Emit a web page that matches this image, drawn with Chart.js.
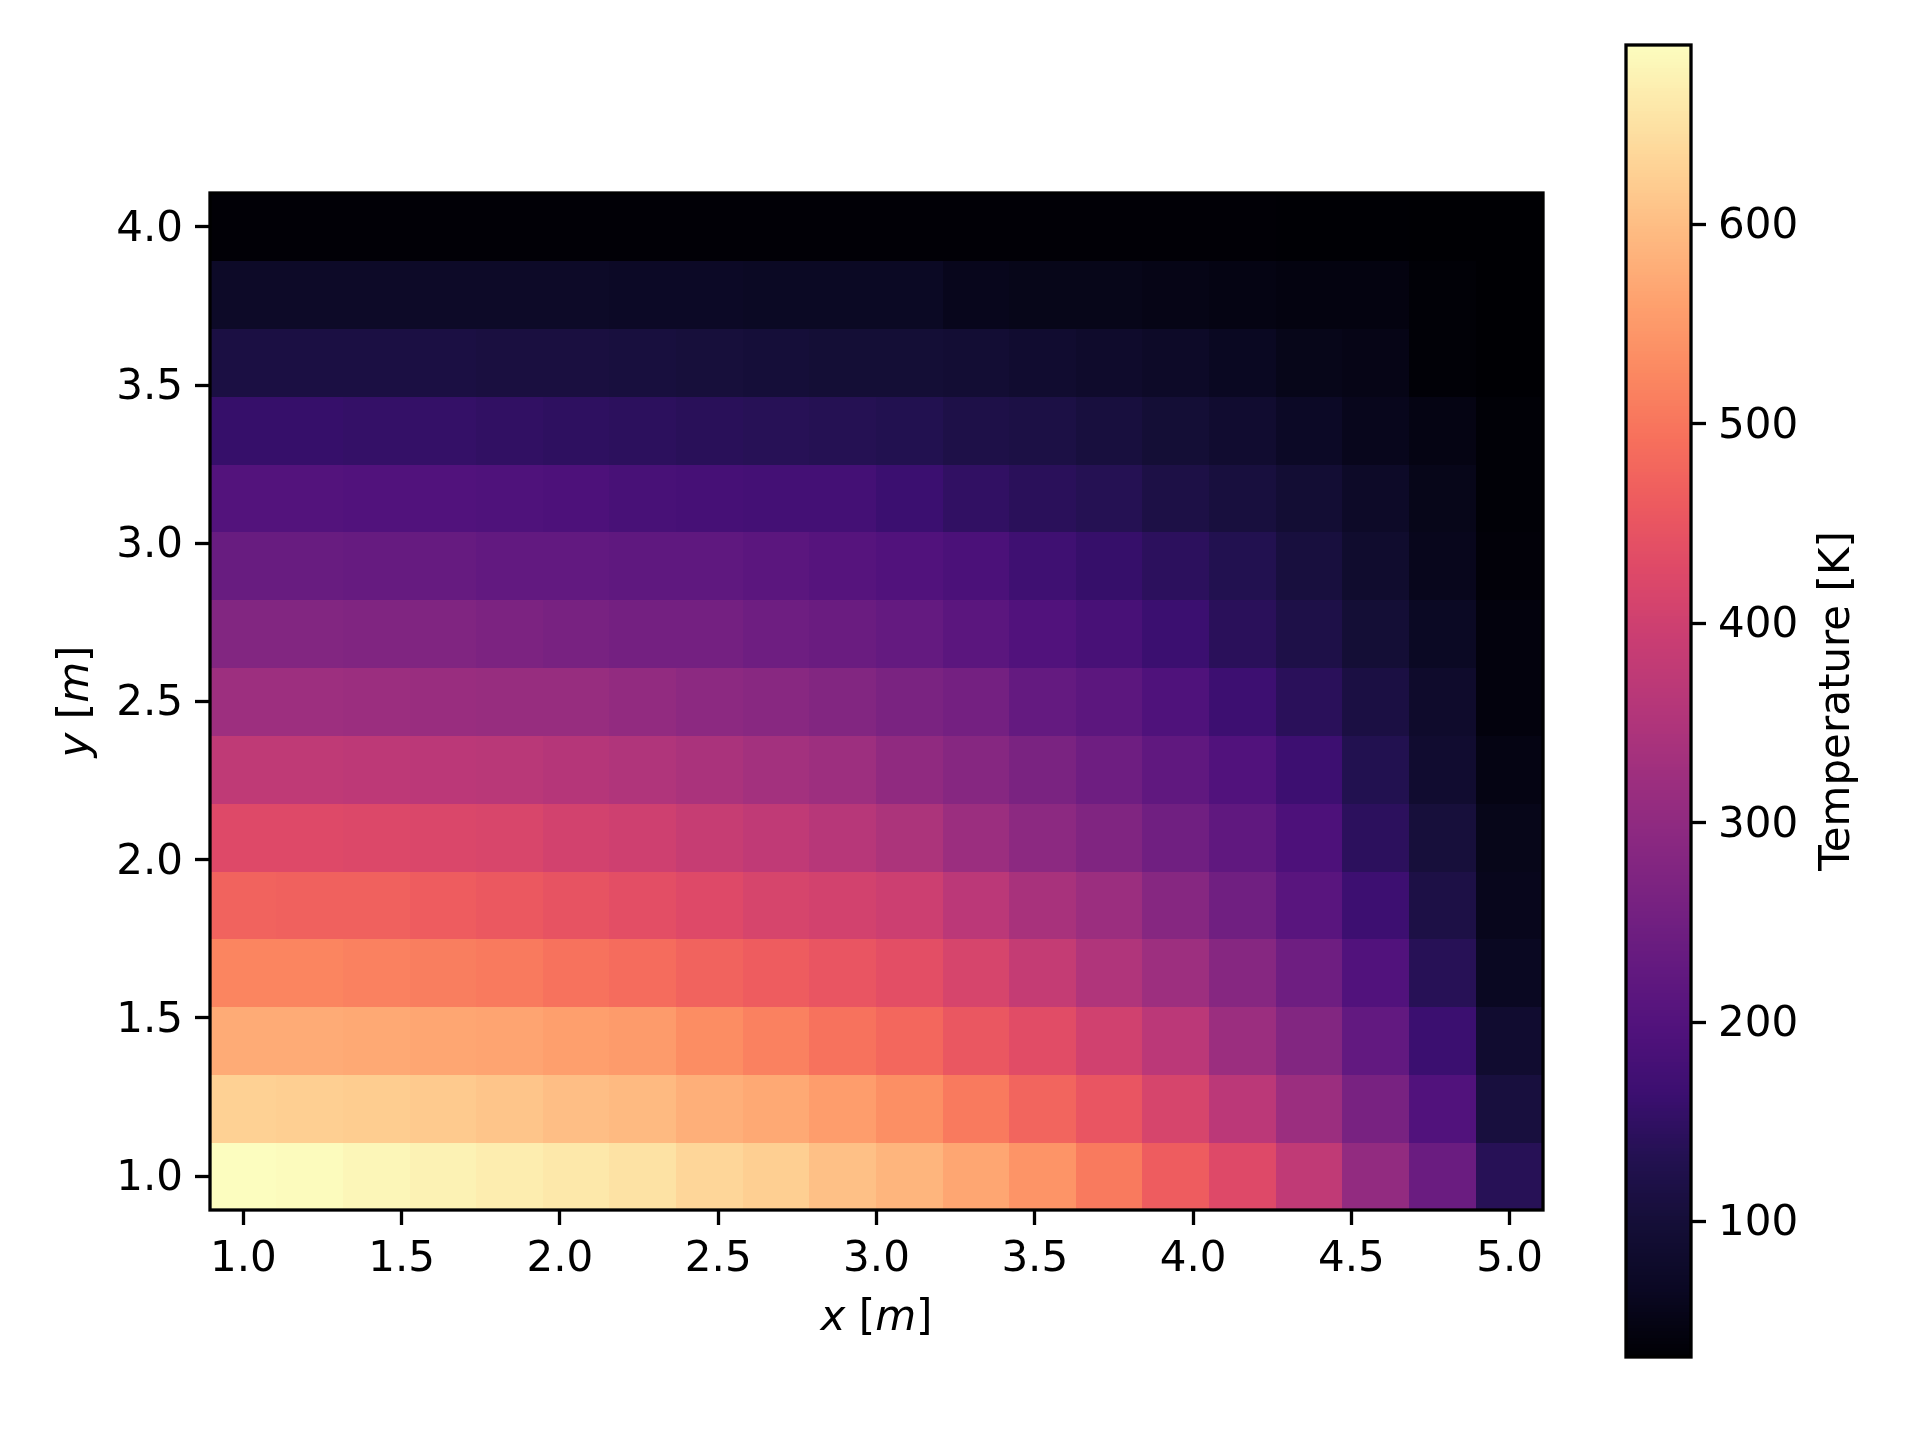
<!DOCTYPE html>
<html>
<head>
<meta charset="utf-8">
<script src="https://cdn.jsdelivr.net/npm/chart.js@4.4.1/dist/chart.umd.min.js"></script>
<style>
  html, body { margin: 0; padding: 0; background: #fff; }
  #wrap { position: relative; width: 1920px; height: 1440px; }
  #heat { position: absolute; left: 0; top: 0; width: 1600px; height: 1440px; }
  #cbar { position: absolute; left: 1600px; top: 0; width: 320px; height: 1440px; }
</style>
</head>
<body>
<div id="wrap">
  <canvas id="heat" width="1600" height="1440"></canvas>
  <canvas id="cbar" width="320" height="1440"></canvas>
</div>
<script>
// cell centres [m]
const xCenters = [1.000, 1.211, 1.421, 1.632, 1.842, 2.053, 2.263, 2.474, 2.684, 2.895,
                  3.105, 3.316, 3.526, 3.737, 3.947, 4.158, 4.368, 4.579, 4.789, 5.000];
const yCenters = [1.000, 1.214, 1.429, 1.643, 1.857, 2.071, 2.286, 2.500,
                  2.714, 2.929, 3.143, 3.357, 3.571, 3.786, 4.000];

// temperature [K], one row per y, bottom (y = 1.0) to top (y = 4.0)
const tY1_00 = [690, 687, 680, 674, 667, 660, 651, 634, 624, 604, 588, 568, 542, 506, 463, 427, 377, 305, 239, 137];
const tY1_21 = [627, 624, 621, 618, 611, 601, 595, 581, 572, 555, 535, 506, 476, 450, 414, 368, 318, 262, 197, 108];
const tY1_43 = [575, 575, 572, 568, 565, 558, 552, 532, 516, 496, 479, 453, 433, 404, 368, 318, 279, 226, 164, 88];
const tY1_64 = [522, 522, 516, 512, 506, 496, 486, 473, 463, 450, 437, 414, 384, 351, 322, 285, 246, 197, 137, 65];
const tY1_86 = [473, 470, 470, 463, 456, 447, 437, 427, 414, 407, 397, 368, 338, 318, 285, 249, 210, 167, 118, 58];
const tY2_07 = [427, 427, 424, 420, 417, 407, 400, 387, 377, 361, 345, 318, 295, 275, 249, 223, 190, 144, 104, 55];
const tY2_29 = [374, 374, 371, 368, 364, 358, 351, 341, 331, 322, 302, 285, 266, 246, 223, 197, 167, 131, 88, 48];
const tY2_50 = [322, 322, 318, 315, 312, 312, 305, 295, 289, 279, 266, 256, 229, 216, 193, 167, 141, 114, 81, 42];
const tY2_71 = [279, 279, 275, 275, 269, 262, 256, 256, 246, 239, 229, 213, 197, 183, 164, 141, 121, 98, 68, 42];
const tY2_93 = [236, 236, 233, 233, 226, 226, 220, 220, 213, 206, 197, 187, 170, 157, 144, 131, 108, 85, 58, 37];
const tY3_14 = [200, 200, 197, 197, 193, 190, 183, 180, 177, 177, 164, 150, 141, 134, 118, 108, 95, 75, 55, 35];
const tY3_36 = [157, 157, 154, 154, 150, 147, 144, 140, 137, 134, 131, 121, 117, 108, 97, 88, 71, 58, 48, 35];
const tY3_57 = [114, 114, 114, 114, 111, 111, 108, 104, 101, 98, 98, 95, 88, 81, 75, 65, 55, 52, 35, 32];
const tY3_79 = [75, 75, 75, 75, 75, 75, 71, 71, 68, 68, 68, 58, 55, 55, 52, 48, 45, 45, 35, 32];
const tY4_00 = [34, 34, 34, 34, 34, 34, 34, 34, 34, 34, 34, 34, 34, 34, 34, 34, 33, 33, 32, 32];

const tRows = [tY1_00, tY1_21, tY1_43, tY1_64, tY1_86, tY2_07, tY2_29, tY2_50,
               tY2_71, tY2_93, tY3_14, tY3_36, tY3_57, tY3_79, tY4_00];

const xTicks = [1.0, 1.5, 2.0, 2.5, 3.0, 3.5, 4.0, 4.5, 5.0];
const yTicks = [1.0, 1.5, 2.0, 2.5, 3.0, 3.5, 4.0];
const cbarTicks = [100, 200, 300, 400, 500, 600];
const vMin = 32, vMax = 690;

// magma colormap stops
const magmaStops = ['#000004', '#0a0822', '#140e36', '#221150', '#3b0f70', '#51127c', '#641a80',
  '#782281', '#8c2981', '#a1307e', '#b73779', '#ca3e72', '#de4968', '#ed5a5f', '#f7705c',
  '#fb8861', '#fe9f6d', '#feb77f', '#fecf92', '#fde6a8', '#fcfdbf'];
const magmaRgb = magmaStops.map(h => [1, 3, 5].map(i => parseInt(h.substr(i, 2), 16)));

function magma(t) {
  t = Math.max(0, Math.min(1, t));
  const f = t * (magmaRgb.length - 1);
  const i = Math.min(Math.floor(f), magmaRgb.length - 2);
  const k = f - i;
  const a = magmaRgb[i], b = magmaRgb[i + 1];
  const c = a.map((v, j) => Math.round(v + (b[j] - v) * k));
  return `rgb(${c[0]},${c[1]},${c[2]})`;
}

const dx = xCenters[1] - xCenters[0];
const dy = yCenters[1] - yCenters[0];

const cells = [];
tRows.forEach((row, j) => {
  row.forEach((v, i) => cells.push({ x: xCenters[i], y: yCenters[j], v: v }));
});

const tickFont = { family: 'DejaVu Sans', size: 42 };
const lw = 3.3;

// draws one rectangle per data point, sized through the scales
const heatCells = {
  id: 'heatCells',
  beforeDatasetsDraw(chart) {
    const { ctx, chartArea: a, scales: { x, y } } = chart;
    ctx.save();
    ctx.beginPath();
    ctx.rect(a.left, a.top, a.right - a.left, a.bottom - a.top);
    ctx.clip();
    chart.data.datasets[0].data.forEach(p => {
      const l = Math.floor(x.getPixelForValue(p.x - dx / 2));
      const r = Math.ceil(x.getPixelForValue(p.x + dx / 2));
      const t = Math.floor(y.getPixelForValue(p.y + dy / 2));
      const b = Math.ceil(y.getPixelForValue(p.y - dy / 2));
      ctx.fillStyle = magma((p.v - vMin) / (vMax - vMin));
      ctx.fillRect(l, t, r - l, b - t);
    });
    ctx.restore();
  }
};

// mixed italic / upright label, like matplotlib mathtext
function drawMixed(ctx, parts, cx, cy, rot) {
  ctx.save();
  ctx.translate(cx, cy);
  ctx.rotate(rot);
  ctx.textBaseline = 'middle';
  ctx.textAlign = 'left';
  const fonts = parts.map(p => (p[1] ? 'italic ' : '') + '42px "DejaVu Sans"');
  let total = 0;
  const widths = parts.map((p, i) => { ctx.font = fonts[i]; const w = ctx.measureText(p[0]).width; total += w; return w; });
  let xx = -total / 2;
  ctx.fillStyle = '#000';
  parts.forEach((p, i) => { ctx.font = fonts[i]; ctx.fillText(p[0], xx, 0); xx += widths[i]; });
  ctx.restore();
}

const frameAndTitles = {
  id: 'frameAndTitles',
  afterDraw(chart) {
    const { ctx, chartArea: a } = chart;
    ctx.save();
    ctx.strokeStyle = '#000';
    ctx.lineWidth = lw;
    ctx.strokeRect(a.left, a.top, a.right - a.left, a.bottom - a.top);
    ctx.restore();
    const midX = (a.left + a.right) / 2, midY = (a.top + a.bottom) / 2;
    drawMixed(ctx, [['x', true], [' [', false], ['m', true], [']', false]], midX, 1319, 0);
    drawMixed(ctx, [['y', true], [' [', false], ['m', true], [']', false]], 77, midY, -Math.PI / 2);
  }
};

function axisOpts(min, max, ticks, fitKey, fitVal, pos) {
  const horiz = pos === 'bottom';
  return {
    type: 'linear',
    position: pos,
    min: min,
    max: max,
    afterBuildTicks: ax => { ax.ticks = ticks.map(v => ({ value: v })); },
    afterFit: s => { s[fitKey] = fitVal; },
    grid: { drawOnChartArea: false, drawTicks: true, tickLength: 15, tickWidth: lw, tickColor: '#000' },
    border: { display: false },
    ticks: {
      color: '#000', font: tickFont, padding: horiz ? 10 : 12, labelOffset: horiz ? 0 : 3,
      maxRotation: 0, autoSkip: false,
      callback: v => Number(v).toFixed(1)
    }
  };
}

new Chart(document.getElementById('heat'), {
  type: 'scatter',
  data: { datasets: [{ data: cells, pointRadius: 0, pointHoverRadius: 0 }] },
  options: {
    responsive: false,
    animation: false,
    layout: { padding: { left: 60, top: 193, right: 57, bottom: 90 } },
    plugins: { legend: { display: false }, tooltip: { enabled: false } },
    scales: {
      x: axisOpts(xCenters[0] - dx / 2, xCenters[xCenters.length - 1] + dx / 2, xTicks, 'height', 140, 'bottom'),
      y: axisOpts(yCenters[0] - dy / 2, yCenters[yCenters.length - 1] + dy / 2, yTicks, 'width', 150, 'left')
    }
  },
  plugins: [heatCells, frameAndTitles]
});

// colour bar
const cbarFill = {
  id: 'cbarFill',
  beforeDatasetsDraw(chart) {
    const { ctx, chartArea: a, scales: { y } } = chart;
    const n = 400;
    for (let i = 0; i < n; i++) {
      const v0 = vMin + (vMax - vMin) * i / n;
      const v1 = vMin + (vMax - vMin) * (i + 1) / n;
      const top = Math.floor(y.getPixelForValue(v1));
      const bot = Math.ceil(y.getPixelForValue(v0));
      ctx.fillStyle = magma((i + 0.5) / n);
      ctx.fillRect(a.left, top, a.right - a.left, bot - top);
    }
  },
  afterDraw(chart) {
    const { ctx, chartArea: a } = chart;
    ctx.save();
    ctx.strokeStyle = '#000';
    ctx.lineWidth = lw;
    ctx.strokeRect(a.left, a.top, a.right - a.left, a.bottom - a.top);
    ctx.restore();
    drawMixed(ctx, [['Temperature [K]', false]], 238, (a.top + a.bottom) / 2, -Math.PI / 2);
  }
};

const cbarY = axisOpts(vMin, vMax, cbarTicks, 'width', 229, 'right');
cbarY.ticks.callback = v => String(v);

new Chart(document.getElementById('cbar'), {
  type: 'scatter',
  data: { datasets: [{ data: [], pointRadius: 0 }] },
  options: {
    responsive: false,
    animation: false,
    layout: { padding: { left: 26, top: 45, right: 0, bottom: 83 } },
    plugins: { legend: { display: false }, tooltip: { enabled: false } },
    scales: {
      x: { type: 'linear', display: false, min: 0, max: 1 },
      y: cbarY
    }
  },
  plugins: [cbarFill]
});
</script>
</body>
</html>
